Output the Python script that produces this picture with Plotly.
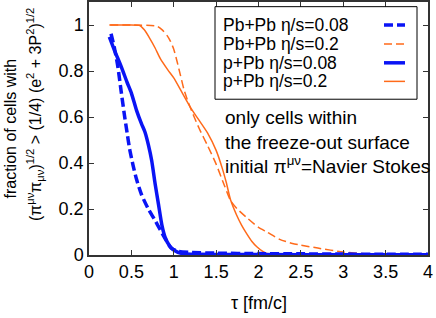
import plotly.graph_objects as go

# ---- data ----
tau_pbpb_008 = [0.26, 0.30, 0.34, 0.38, 0.42, 0.45, 0.48, 0.52, 0.56, 0.62, 0.70, 0.78, 0.84, 0.90, 0.97, 1.05, 1.2, 1.5, 2.0, 2.5, 3.0, 3.5, 4.0]
frac_pbpb_008 = [0.962, 0.90, 0.82, 0.71, 0.603, 0.53, 0.46, 0.39, 0.33, 0.262, 0.20, 0.15, 0.11, 0.07, 0.03, 0.016, 0.011, 0.008, 0.006, 0.005, 0.004, 0.003, 0.003]

tau_pbpb_02 = [0.25, 0.5, 0.8, 0.86, 0.92, 0.96, 1.0, 1.04, 1.08, 1.12, 1.17, 1.23, 1.3, 1.4, 1.5, 1.6, 1.67, 1.75, 1.86, 2.0, 2.1, 2.25, 2.4, 2.5, 2.7, 3.0, 3.2, 3.4, 3.7, 4.0]
frac_pbpb_02 = [1.0, 1.0, 0.995, 0.98, 0.955, 0.93, 0.895, 0.84, 0.78, 0.72, 0.665, 0.61, 0.55, 0.475, 0.395, 0.30, 0.237, 0.20, 0.163, 0.12, 0.10, 0.068, 0.05, 0.043, 0.03, 0.013, 0.007, 0.003, 0.001, 0.0]

tau_ppb_008 = [0.24, 0.30, 0.38, 0.45, 0.50, 0.56, 0.62, 0.66, 0.70, 0.74, 0.78, 0.82, 0.86, 0.90, 0.95, 1.0, 1.09, 1.3, 2.0, 3.0, 4.0]
frac_ppb_008 = [0.948, 0.89, 0.819, 0.75, 0.704, 0.63, 0.57, 0.535, 0.48, 0.41, 0.31, 0.22, 0.13, 0.075, 0.04, 0.022, 0.007, 0.003, 0.002, 0.001, 0.001]

tau_ppb_02 = [0.24, 0.4, 0.6, 0.65, 0.72, 0.78, 0.84, 0.93, 1.0, 1.1, 1.2, 1.3, 1.4, 1.5, 1.57, 1.62, 1.67, 1.74, 1.80, 1.86, 1.92, 1.98, 2.05, 2.12, 2.3, 3.0, 4.0]
frac_ppb_02 = [1.0, 1.0, 0.998, 0.98, 0.94, 0.90, 0.855, 0.805, 0.77, 0.705, 0.64, 0.585, 0.53, 0.455, 0.38, 0.315, 0.24, 0.175, 0.13, 0.093, 0.06, 0.036, 0.016, 0.004, 0.001, 0.0, 0.0]

series_names = ["Pb+Pb \u03b7/s=0.08", "Pb+Pb \u03b7/s=0.2", "p+Pb \u03b7/s=0.08", "p+Pb \u03b7/s=0.2"]
x_ticks = [0, 0.5, 1, 1.5, 2, 2.5, 3, 3.5, 4]
x_tick_labels = ["0", "0.5", "1", "1.5", "2", "2.5", "3", "3.5", "4"]
y_ticks = [0, 0.2, 0.4, 0.6, 0.8, 1]
y_tick_labels = ["0", "0.2", "0.4", "0.6", "0.8", "1"]

BLUE = "#0a14f5"
ORANGE = "#ff6a1a"
FONT = "Liberation Sans, Arial, sans-serif"

styles = [
    dict(color=BLUE, width=3.5, dash="9px,4px"),
    dict(color=ORANGE, width=1.5, dash="8px,4px"),
    dict(color=BLUE, width=3.5, dash="solid"),
    dict(color=ORANGE, width=1.5, dash="solid"),
]
data = [
    (tau_pbpb_02, frac_pbpb_02, 1),
    (tau_ppb_02, frac_ppb_02, 3),
    (tau_pbpb_008, frac_pbpb_008, 0),
    (tau_ppb_008, frac_ppb_008, 2),
]

fig = go.Figure()
for xs, ys, i in data:
    fig.add_trace(go.Scatter(x=xs, y=ys, mode="lines", name=series_names[i],
                             line=dict(**styles[i], shape="spline", smoothing=0.6),
                             showlegend=False))

W, H = 436, 318
ml, mr, mt, mb = 89, 8, 0, 63
pw, ph = W - ml - mr, H - mt - mb


def px(xp):
    return (xp - ml) / pw


def py(yp):
    return (H - mb - yp) / ph


axis_common = dict(showline=True, linecolor="#333", linewidth=1.5, mirror="ticks",
                   ticks="inside", ticklen=5, tickcolor="#333", tickwidth=1,
                   showgrid=False, zeroline=False,
                   tickfont=dict(family=FONT, size=18, color="black"))

fig.update_layout(
    width=W, height=H,
    margin=dict(l=ml, r=mr, t=mt, b=mb),
    plot_bgcolor="white", paper_bgcolor="white",
    xaxis=dict(range=[0, 4], tickvals=x_ticks, ticktext=x_tick_labels, **axis_common),
    yaxis=dict(range=[0, 1.1], tickvals=y_ticks, ticktext=y_tick_labels, **axis_common),
    showlegend=False,
)

annotations = [
    dict(text="\u03c4 [fm/c]", x=0.5, y=py(303), xref="paper", yref="paper",
         xanchor="center", yanchor="middle", showarrow=False,
         font=dict(family=FONT, size=18, color="black")),
    dict(text="fraction of cells with", x=px(10), y=0.5, xref="paper", yref="paper",
         xanchor="center", yanchor="middle", textangle=-90, showarrow=False,
         font=dict(family=FONT, size=16, color="black")),
    dict(text="(\u03c0<sup>\u03bc\u03bd</sup>\u03c0<sub>\u03bc\u03bd</sub>)<sup>1/2</sup> > (1/4) (e<sup>2</sup> + 3P<sup>2</sup>)<sup>1/2</sup>",
         x=px(35), y=py(114), xref="paper", yref="paper",
         xanchor="center", yanchor="middle", textangle=-90, showarrow=False,
         font=dict(family=FONT, size=16, color="black")),
    dict(text="only cells within<br>the freeze-out surface<br>initial \u03c0<sup>\u03bc\u03bd</sup>=Navier Stokes",
         x=px(223), y=py(141), xref="paper", yref="paper", align="left",
         xanchor="left", yanchor="middle", showarrow=False,
         font=dict(family=FONT, size=19, color="black")),
]

# manual legend: labels left, line samples right (as in the reference)
legend_rows_y = [23.3, 42.3, 61.3, 80.0]
shapes = [dict(type="rect", xref="paper", yref="paper",
               x0=px(215), x1=px(417), y0=py(98), y1=py(4.7),
               line=dict(color="black", width=1), fillcolor="white", layer="above")]
for i, name in enumerate(series_names):
    yr = legend_rows_y[i]
    annotations.append(dict(text=name, x=px(221), y=py(yr), xref="paper", yref="paper",
                            xanchor="left", yanchor="middle", showarrow=False,
                            font=dict(family=FONT, size=17.5, color="black")))
    st = styles[i]
    shapes.append(dict(type="line", xref="paper", yref="paper",
                       x0=px(384), x1=px(405), y0=py(yr), y1=py(yr),
                       line=dict(color=st["color"], width=st["width"], dash=st["dash"]),
                       layer="above"))

fig.update_layout(annotations=annotations, shapes=shapes)
fig.write_html("out.html", config={"displayModeBar": False},
               post_script="document.body.style.margin='0';document.body.style.overflow='hidden';")
